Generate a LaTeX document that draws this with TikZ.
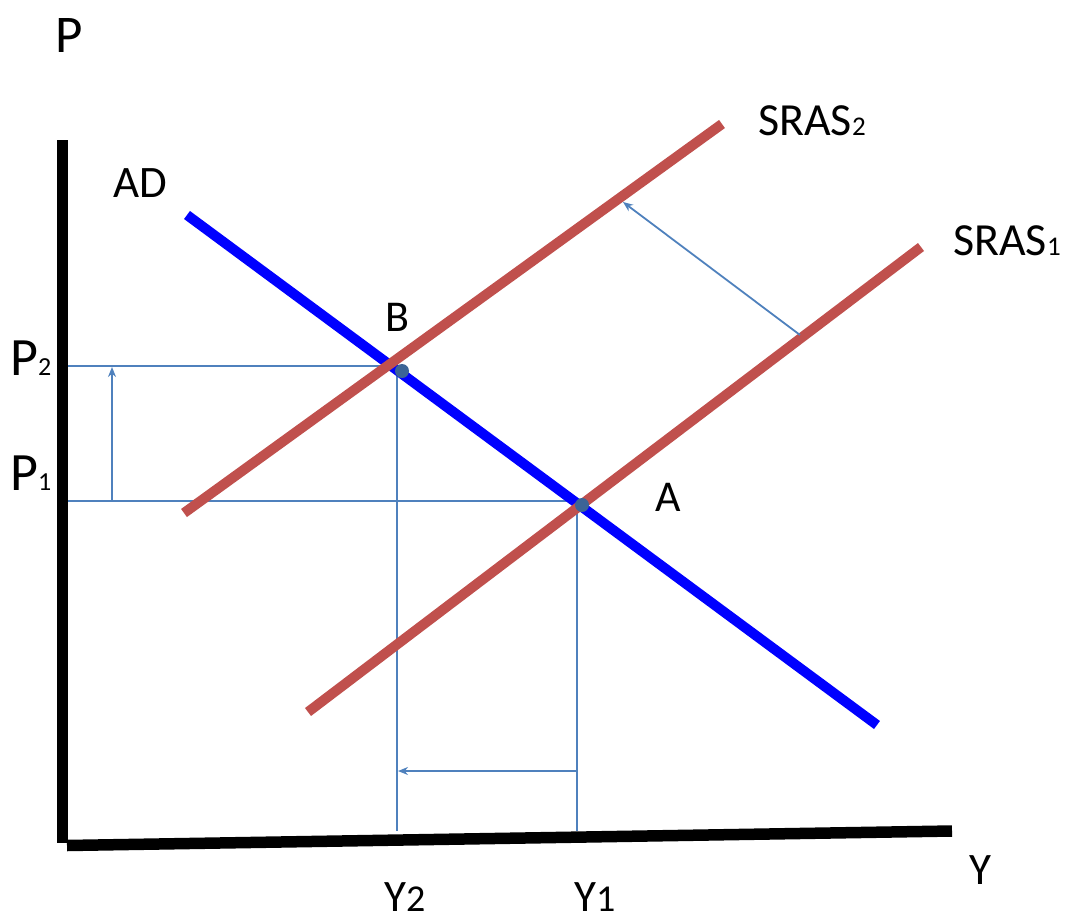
\documentclass[tikz,border=0pt]{standalone}
\usepackage{fontspec}
\setmainfont{Carlito}
\usetikzlibrary{arrows.meta}
\definecolor{srasred}{RGB}{192,80,77}
\definecolor{adblue}{RGB}{0,0,255}
\definecolor{guide}{RGB}{79,129,189}
\definecolor{dotc}{RGB}{60,100,150}
\tikzset{
  axis/.style={line width=11.5pt,black},
  adline/.style={line width=10pt,adblue},
  srasline/.style={line width=10pt,srasred},
  guideline/.style={line width=1.8pt,guide},
  shiftarrow/.style={line width=1.8pt,guide,-{Stealth[length=10pt,width=8pt]}},
  eqdot/.style={circle,fill=dotc,inner sep=0pt,minimum size=14pt},
  lbl/.style={inner sep=0pt,anchor=base west},
}
\begin{document}
\begin{tikzpicture}[x=1pt,y=-1pt]
\useasboundingbox (0,0) rectangle (1072,919);
% coordinates
\coordinate (ytop) at (62.5,140);
\coordinate (ybot) at (62.5,843);
\coordinate (xl) at (67,845.5);
\coordinate (xr) at (952,831);
\coordinate (ad1) at (187,215);
\coordinate (ad2) at (877,725);
\coordinate (s2a) at (184,513);
\coordinate (s2b) at (722,124);
\coordinate (s1a) at (308,712);
\coordinate (s1b) at (921,247);
\coordinate (p2l) at (68,366);
\coordinate (p2r) at (383,366);
\coordinate (p1l) at (68,501);
\coordinate (p1r) at (582,501);
\coordinate (v2t) at (397,371);
\coordinate (v2b) at (397,831);
\coordinate (v1t) at (577,505);
\coordinate (v1b) at (577,831);
\coordinate (upa) at (112,501);
\coordinate (upb) at (112,367);
\coordinate (lfa) at (577,771);
\coordinate (lfb) at (398,771);
\coordinate (dga) at (800,335);
\coordinate (dgb) at (623,202);
% guides
\draw[guideline] (p2l) -- (p2r);
\draw[guideline] (p1l) -- (p1r);
\draw[guideline] (v2t) -- (v2b);
\draw[guideline] (v1t) -- (v1b);
% axes
\draw[axis] (ytop) -- (ybot);
\draw[axis] (xl) -- (xr);
% curves
\draw[adline] (ad1) -- (ad2);
\draw[srasline] (s2a) -- (s2b);
\draw[srasline] (s1a) -- (s1b);
% arrows
\draw[shiftarrow] (upa) -- (upb);
\draw[shiftarrow] (lfa) -- (lfb);
\draw[shiftarrow] (dga) -- (dgb);
% dots
\node[eqdot] (B) at (402,371) {};
\node[eqdot] (A) at (582,505) {};
% labels
\node[lbl] (lP) at (55,52) {\fontsize{53}{53}\selectfont P};
\node[lbl] (lAD) at (113,197) {\fontsize{45}{45}\selectfont AD};
\node[lbl] (lB) at (385,331) {\fontsize{44}{44}\selectfont B};
\node[lbl] (lA) at (655,511) {\fontsize{44}{44}\selectfont A};
\node[lbl] (lP2) at (10,375) {\fontsize{54}{54}\selectfont P\fontsize{26}{26}\selectfont 2};
\node[lbl] (lP1) at (10,490) {\fontsize{54}{54}\selectfont P\fontsize{26}{26}\selectfont 1};
\node[lbl] (lS2) at (758,135) {\fontsize{46}{46}\selectfont SRAS\fontsize{27}{27}\selectfont 2};
\node[lbl] (lS1) at (953,255) {\fontsize{46}{46}\selectfont SRAS\fontsize{27}{27}\selectfont 1};
\node[lbl] (lY) at (969,884) {\fontsize{45}{45}\selectfont Y};
\node[lbl] (lY2) at (384,911) {\fontsize{45}{45}\selectfont Y\fontsize{38}{38}\selectfont 2};
\node[lbl] (lY1) at (574,911) {\fontsize{45}{45}\selectfont Y\fontsize{38}{38}\selectfont 1};
\end{tikzpicture}
\end{document}
